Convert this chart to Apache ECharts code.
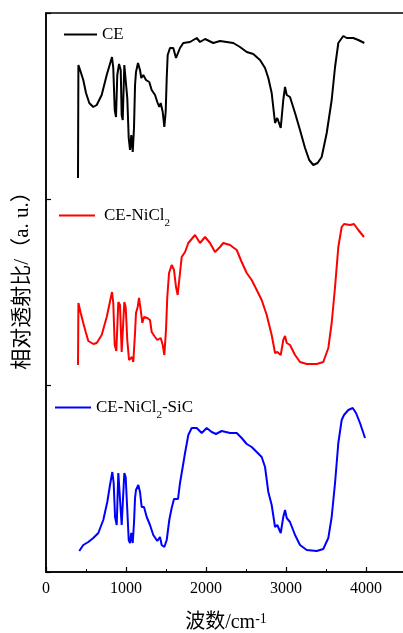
<!DOCTYPE html>
<html>
<head>
<meta charset="utf-8">
<title>FTIR</title>
<script src="https://cdn.jsdelivr.net/npm/echarts@6/dist/echarts.min.js"></script>
<style>
    html,body{margin:0;padding:0;background:#fff;}
    #container{width:403px;height:633px;}
</style>
</head>
<body>
<div id="container"></div>
<script>
// 波数 cm-1 / 相对透射比 (a.u.)
const ceWave = [400,405,434,466,500,541,591,634,696,759,825,841,859,875,891,913,934,946,959,979,996,1016,1034,1050,1066,1084,1100,1113,1125,1150,1175,1191,1216,1250,1291,1321,1363,1391,1416,1434,1459,1479,1496,1509,1521,1550,1591,1625,1641,1675,1716,1800,1884,1925,1988,2091,2175,2341,2425,2509,2591,2675,2738,2779,2821,2863,2891,2934,2966,2988,3009,3050,3113,3175,3238,3290,3341,3395,3446,3509,3571,3613,3654,3716,3759,3841,3904,3979];
const ceTrans = [394,507,500,492,479,469,465,467,477,497,515,504,462,455,497,508,502,457,452,507,508,474,434,422,437,420,444,487,500,509,502,494,497,492,490,482,477,470,465,469,460,445,460,494,517,524,524,514,512,524,529,530,534,530,533,529,531,529,525,520,518,512,504,494,479,449,454,444,472,485,477,475,459,442,424,412,407,409,415,439,472,505,529,536,534,534,532,529];

const niWave = [400,405,434,466,500,529,591,634,696,759,825,841,859,879,904,925,946,959,979,996,1016,1038,1059,1075,1091,1113,1125,1146,1163,1184,1204,1225,1266,1300,1321,1363,1391,1416,1434,1459,1479,1500,1516,1538,1571,1600,1625,1646,1675,1696,1738,1779,1863,1925,1988,2050,2113,2175,2216,2300,2384,2446,2509,2571,2634,2696,2759,2821,2863,2891,2934,2966,2988,3009,3050,3113,3175,3259,3384,3466,3529,3571,3613,3654,3696,3725,3800,3850,3904,3975];
const niTrans = [207,269,259,249,239,231,228,229,237,255,280,269,227,221,270,267,220,219,270,265,232,212,210,215,210,239,259,265,274,262,249,255,254,252,240,235,232,230,234,227,217,242,275,299,307,302,285,277,299,315,320,329,337,329,335,329,320,325,329,327,322,310,299,292,282,272,257,237,219,220,217,232,236,229,227,217,210,208,208,210,224,249,285,325,345,348,347,348,342,335];

const sicWave = [416,466,529,591,654,716,766,800,829,846,863,884,904,925,946,959,979,996,1016,1034,1050,1066,1084,1100,1113,1125,1154,1175,1196,1225,1259,1300,1341,1391,1425,1446,1479,1509,1541,1571,1600,1625,1650,1675,1709,1738,1779,1821,1884,1946,2009,2071,2125,2196,2300,2384,2446,2509,2571,2634,2696,2738,2779,2821,2863,2891,2934,2966,2988,3009,3050,3113,3175,3259,3384,3466,3529,3571,3613,3654,3696,3725,3779,3834,3875,3925,3988];
const sicTrans = [21,27,30,34,39,52,70,87,100,89,55,47,99,99,47,45,99,95,62,32,29,39,29,49,74,82,87,80,65,65,55,47,37,31,35,27,25,32,52,64,73,74,73,89,105,119,137,144,144,139,144,140,138,141,139,139,134,128,125,120,115,105,80,67,45,47,39,55,62,54,50,37,27,22,21,23,34,55,89,129,152,157,162,164,159,149,134];

const xTicks = [0,1000,2000,3000,4000];

const fontFamily = "'Liberation Serif','Noto Sans CJK SC',serif";

function zip(xs,ys){
    return xs.map((x,i)=>[x,ys[i]]);
}

let ecObj = echarts.init(document.getElementById('container'));

let legendBase = {
    orient:'horizontal',
    padding:0,
    icon:'rect',
    itemHeight:2,
    textStyle:{
        fontFamily:fontFamily,
        fontSize:17,
        color:'#000',
        rich:{
            n:{fontFamily:fontFamily,fontSize:17,color:'#000'},
            s:{fontFamily:fontFamily,fontSize:11,color:'#000',verticalAlign:'bottom',padding:[0,0,-5,0]}
        }
    },
    formatter:function(name){
        return name.split('2').map(function(p){ return '{n|'+p+'}'; }).join('{s|2}');
    }
};

let option = {
    animation:false,
    backgroundColor:'#fff',
    grid:{
        left:46,
        top:13,
        width:360,
        height:559,
        outerBoundsMode:'none',
        show:true,
        borderColor:'#000',
        borderWidth:1.5
    },
    legend:[
        Object.assign({},legendBase,{data:['CE'],left:64,top:26,itemWidth:33}),
        Object.assign({},legendBase,{data:['CE-NiCl2'],left:59,top:207,itemWidth:36,
            textStyle:Object.assign({},legendBase.textStyle,{padding:[0,0,0,4]})}),
        Object.assign({},legendBase,{data:['CE-NiCl2-SiC'],left:55,top:399,itemWidth:36})
    ],
    xAxis:{
        type:'value',
        min:0,
        max:4500,
        interval:1000,
        name:'波数/cm{sup|-1}',
        nameLocation:'middle',
        nameGap:40,
        nameTextStyle:{
            fontFamily:fontFamily,
            fontSize:20,
            color:'#000',
            rich:{
                sup:{fontFamily:fontFamily,fontSize:14,color:'#000',verticalAlign:'top',padding:[0,0,8,0]}
            }
        },
        axisLine:{lineStyle:{color:'#000',width:1.5}},
        axisTick:{inside:true,length:5,lineStyle:{color:'#000',width:1.2}},
        minorTick:{show:true,splitNumber:2,length:3,lineStyle:{color:'#000',width:1}},
        splitLine:{show:false},
        axisLabel:{
            margin:9,
            showMaxLabel:false,
            fontFamily:fontFamily,
            fontSize:16,
            color:'#000',
            formatter:function(v){ return xTicks.indexOf(v)>=0 ? String(v) : ''; }
        }
    },
    yAxis:{
        type:'value',
        min:0,
        max:559,
        interval:559/3,
        name:'相对透射比/（a. u.）',
        nameLocation:'middle',
        nameGap:13,
        nameTextStyle:{fontFamily:fontFamily,fontSize:21,color:'#000',padding:[0,0,0,34]},
        axisLine:{show:true,lineStyle:{color:'#000',width:1.5}},
        axisTick:{show:true,inside:true,length:5,lineStyle:{color:'#000',width:1.2}},
        axisLabel:{show:false},
        splitLine:{show:false}
    },
    series:[
        {
            name:'CE',
            type:'line',
            symbol:'none',
            color:'#000000',
            lineStyle:{width:2,color:'#000000'},
            data:zip(ceWave,ceTrans)
        },
        {
            name:'CE-NiCl2',
            type:'line',
            symbol:'none',
            color:'#ff0000',
            lineStyle:{width:2,color:'#ff0000'},
            data:zip(niWave,niTrans)
        },
        {
            name:'CE-NiCl2-SiC',
            type:'line',
            symbol:'none',
            color:'#0000ff',
            lineStyle:{width:2,color:'#0000ff'},
            data:zip(sicWave,sicTrans)
        }
    ]
};

ecObj.setOption(option);
</script>
</body>
</html>
